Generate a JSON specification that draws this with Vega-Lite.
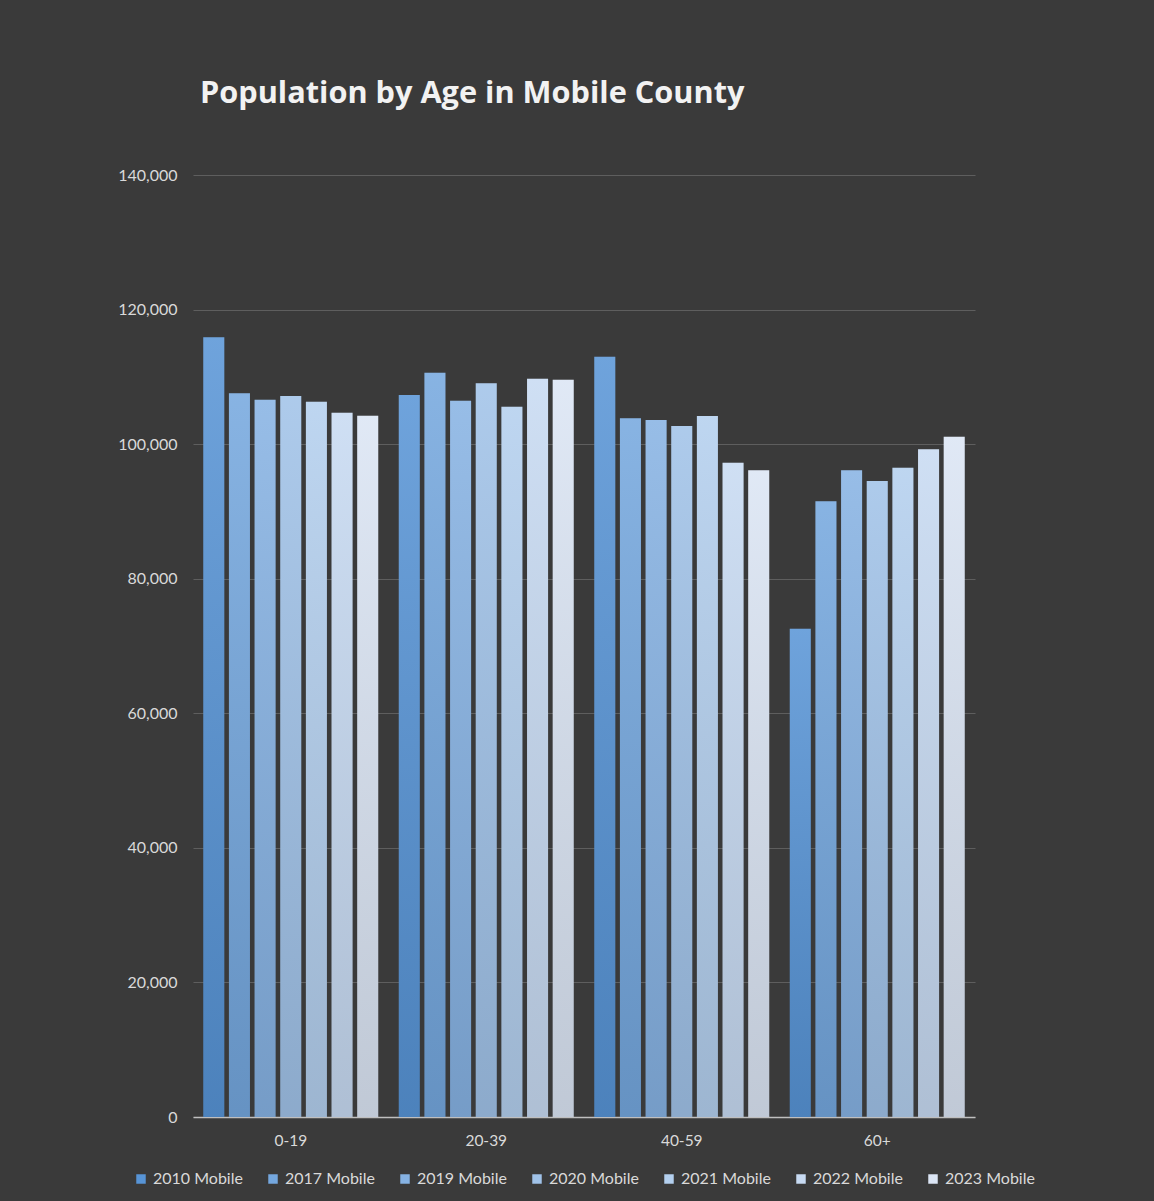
{
  "$schema": "https://vega.github.io/schema/vega-lite/v6.json",
  "autosize": {"type": "none"},
  "width": 782,
  "height": 942,
  "padding": {"left": 193, "top": 175, "right": 179, "bottom": 84},
  "background": "#3a3a3a",
  "title": {
    "text": "Population by Age in Mobile County",
    "anchor": "start",
    "frame": "group",
    "dx": 7,
    "offset": 57,
    "font": "Open Sans",
    "fontSize": 30.7,
    "fontWeight": "bold",
    "color": "#f2f2f2"
  },
  "data": {
    "values": [
      {"age": "0-19", "series": "2010 Mobile", "population": 115870},
      {"age": "0-19", "series": "2017 Mobile", "population": 107550},
      {"age": "0-19", "series": "2019 Mobile", "population": 106600},
      {"age": "0-19", "series": "2020 Mobile", "population": 107150},
      {"age": "0-19", "series": "2021 Mobile", "population": 106300},
      {"age": "0-19", "series": "2022 Mobile", "population": 104670},
      {"age": "0-19", "series": "2023 Mobile", "population": 104220},
      {"age": "20-39", "series": "2010 Mobile", "population": 107300},
      {"age": "20-39", "series": "2017 Mobile", "population": 110610},
      {"age": "20-39", "series": "2019 Mobile", "population": 106450},
      {"age": "20-39", "series": "2020 Mobile", "population": 109040},
      {"age": "20-39", "series": "2021 Mobile", "population": 105560},
      {"age": "20-39", "series": "2022 Mobile", "population": 109720},
      {"age": "20-39", "series": "2023 Mobile", "population": 109570},
      {"age": "40-59", "series": "2010 Mobile", "population": 112990},
      {"age": "40-59", "series": "2017 Mobile", "population": 103830},
      {"age": "40-59", "series": "2019 Mobile", "population": 103580},
      {"age": "40-59", "series": "2020 Mobile", "population": 102690},
      {"age": "40-59", "series": "2021 Mobile", "population": 104180},
      {"age": "40-59", "series": "2022 Mobile", "population": 97240},
      {"age": "40-59", "series": "2023 Mobile", "population": 96110},
      {"age": "60+", "series": "2010 Mobile", "population": 72570},
      {"age": "60+", "series": "2017 Mobile", "population": 91500},
      {"age": "60+", "series": "2019 Mobile", "population": 96110},
      {"age": "60+", "series": "2020 Mobile", "population": 94520},
      {"age": "60+", "series": "2021 Mobile", "population": 96490},
      {"age": "60+", "series": "2022 Mobile", "population": 99230},
      {"age": "60+", "series": "2023 Mobile", "population": 101100}
    ]
  },
  "encoding": {
    "x": {
      "field": "age",
      "type": "nominal",
      "sort": ["0-19", "20-39", "40-59", "60+"],
      "scale": {"paddingInner": 0.105, "paddingOuter": 0.0525},
      "axis": {
        "title": null,
        "labelAngle": 0,
        "ticks": false,
        "domainColor": "#bfbfbf",
        "domainWidth": 1.5,
        "labelPadding": 16,
        "labelFont": "Lato",
        "labelFontSize": 15.5,
        "labelColor": "#d9d9d9",
        "grid": false
      }
    },
    "xOffset": {
      "field": "series",
      "type": "nominal",
      "scale": {"paddingInner": 0.18, "paddingOuter": 0}
    },
    "y": {
      "field": "population",
      "type": "quantitative",
      "scale": {"domain": [0, 140000], "nice": false},
      "axis": {
        "title": null,
        "values": [0, 20000, 40000, 60000, 80000, 100000, 120000, 140000],
        "format": ",.0f",
        "domain": false,
        "ticks": false,
        "labelPadding": 16,
        "labelFont": "Lato",
        "labelFontSize": 16,
        "labelColor": "#d9d9d9",
        "gridColor": "#5e5e5e",
        "gridWidth": 1
      }
    }
  },
  "layer": [
    {
      "mark": {"type": "bar"},
      "encoding": {
        "color": {
          "field": "series",
          "type": "nominal",
          "scale": {
            "domain": ["2010 Mobile", "2017 Mobile", "2019 Mobile", "2020 Mobile", "2021 Mobile", "2022 Mobile", "2023 Mobile"],
            "range": ["#5794d6", "#74a7de", "#86b2e3", "#a0c2e8", "#b3cfee", "#c7daf2", "#dbe5f4"]
          },
          "legend": {
            "title": null,
            "orient": "bottom",
            "direction": "horizontal",
            "symbolType": "square",
            "symbolSize": 90,
            "symbolStrokeWidth": 0,
            "labelFont": "Lato",
            "labelFontSize": 16,
            "labelColor": "#d9d9d9",
            "columnPadding": 22,
            "labelOffset": 4,
            "offset": 22
          }
        }
      }
    },
    {
      "mark": {
        "type": "bar",
        "color": {
          "gradient": "linear",
          "x1": 0, "y1": 0, "x2": 0, "y2": 1,
          "stops": [
            {"offset": 0, "color": "rgba(255,255,255,0.14)"},
            {"offset": 1, "color": "rgba(0,0,0,0.12)"}
          ]
        }
      }
    }
  ],
  "config": {
    "view": {"stroke": null},
    "legend": {"layout": {"bottom": {"anchor": "middle"}}}
  }
}
